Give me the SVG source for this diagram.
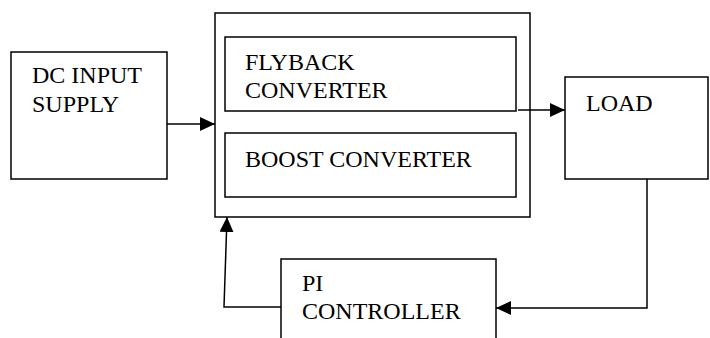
<svg xmlns="http://www.w3.org/2000/svg" width="710" height="338" viewBox="0 0 710 338">
<style>
.box{fill:#fff;stroke:#000;stroke-width:1.5}
.t{font-family:"Liberation Serif",serif;font-size:24px;fill:#000}
.c{fill:none;stroke:#000;stroke-width:1.5}
</style>
<defs>
<marker id="ah" markerWidth="15" markerHeight="14" refX="15" refY="7" orient="auto" markerUnits="userSpaceOnUse">
<path d="M0,0 L15,7 L0,14 Z" fill="#000"/>
</marker>
</defs>
<rect width="710" height="338" fill="#fff"/>
<g id="dc">
<rect class="box" x="11" y="52" width="156" height="127"/>
<text class="t" x="32" y="83">DC INPUT</text>
<text class="t" x="32" y="112">SUPPLY</text>
</g>
<g id="main">
<rect class="box" x="215" y="13" width="315" height="204"/>
</g>
<g id="flyback">
<rect class="box" x="225" y="37" width="291" height="74"/>
<text class="t" x="245" y="70">FLYBACK</text>
<text class="t" x="245" y="98">CONVERTER</text>
</g>
<g id="boost">
<rect class="box" x="225" y="133" width="291" height="64"/>
<text class="t" x="245" y="167">BOOST CONVERTER</text>
</g>
<g id="load">
<rect class="box" x="565" y="77" width="143" height="102"/>
<text class="t" x="586" y="111">LOAD</text>
</g>
<g id="pi">
<rect class="box" x="281" y="259" width="215" height="90"/>
<text class="t" x="302" y="291">PI</text>
<text class="t" x="302" y="319">CONTROLLER</text>
</g>
<g id="connectors">
<line class="c" x1="167" y1="124" x2="215" y2="124" marker-end="url(#ah)"/>
<line class="c" x1="518" y1="110" x2="565" y2="110" marker-end="url(#ah)"/>
<polyline class="c" points="647,179 647,308 496,308" marker-end="url(#ah)"/>
<polyline class="c" points="281,307 224,307 227,217" marker-end="url(#ah)"/>
</g>
</svg>
